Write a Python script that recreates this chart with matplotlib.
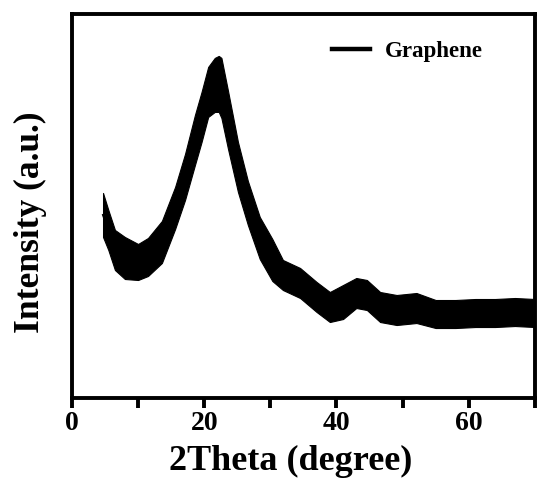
import matplotlib
matplotlib.use("Agg")
import matplotlib.pyplot as plt
import numpy as np

# 2Theta (degree) readings of the noisy band: centre and half-width (arbitrary intensity units)
two_theta = [4.7, 5.5, 6.5, 8.0, 10.0, 11.5, 13.6, 15.6, 17.1, 18.6, 19.6, 20.6,
             21.6, 22.2, 22.6, 23.6, 25.1, 26.6, 28.4, 30.3, 31.9, 34.5, 37.0,
             39.0, 41.0, 43.0, 44.6, 46.6, 49.1, 52.1, 55.0, 58.0, 61.0, 64.0,
             67.0, 70.0]
intensity = [183, 168, 148, 140, 136, 141, 156, 190, 221, 258, 281, 306,
             313, 314, 310, 278, 231, 195, 160, 138, 123, 115, 101,
             91, 96, 105, 103, 91, 88, 90, 84, 84, 85, 85,
             86, 85]
half_width = [22, 20, 20, 21, 18, 19, 21, 21, 23, 25, 25, 25,
              27, 28, 30, 29, 25, 22, 21, 21, 15, 15, 15,
              15, 17, 15, 15, 15, 15, 15, 14, 14, 14, 14,
              14, 14]
x_ticks = [0, 20, 40, 60]
series_label = "Graphene"

plt.rcParams['font.family'] = ['Liberation Serif', 'DejaVu Serif']
plt.rcParams['font.weight'] = 'bold'

fig = plt.figure(figsize=(5.37, 4.79), dpi=100)
ax = fig.add_axes([0.134, 0.169, 0.862, 0.802])

x = np.array(two_theta)
y = np.array(intensity)
hw = np.array(half_width)
ax.fill_between(x, y - hw, y + hw, color='black', linewidth=0.8, edgecolor='black')
line, = ax.plot(x, y, color='black', linewidth=1.5, label=series_label)

ax.set_xlim(0, 70)
ax.set_ylim(0, 384)
ax.set_xticks(x_ticks)
ax.set_xticks([10, 30, 50, 70], minor=True)
ax.set_yticks([])
for s in ax.spines.values():
    s.set_linewidth(2.8)
ax.tick_params(axis='x', which='major', direction='out', length=7, width=2.8,
               labelsize=20, pad=2)
ax.tick_params(axis='x', which='minor', direction='out', length=7, width=2.8)
for lbl in ax.get_xticklabels():
    lbl.set_fontweight('bold')

ax.set_xlabel("2Theta (degree)", fontsize=26, fontweight='bold')
ax.xaxis.set_label_coords(0.472, -0.123)
ax.set_ylabel("Intensity (a.u.)", fontsize=25.5, fontweight='bold')
ax.yaxis.set_label_coords(-0.053, 0.458)

leg = ax.legend(loc='center left', bbox_to_anchor=(0.5616, 0.901), frameon=False,
                handlelength=1.65, handletextpad=0.65, borderpad=0, borderaxespad=0,
                prop={'family': 'Liberation Serif', 'weight': 'bold', 'size': 16.5})
for h in leg.get_lines():
    h.set_linewidth(3.2)

fig.savefig("out.png", dpi=100)
